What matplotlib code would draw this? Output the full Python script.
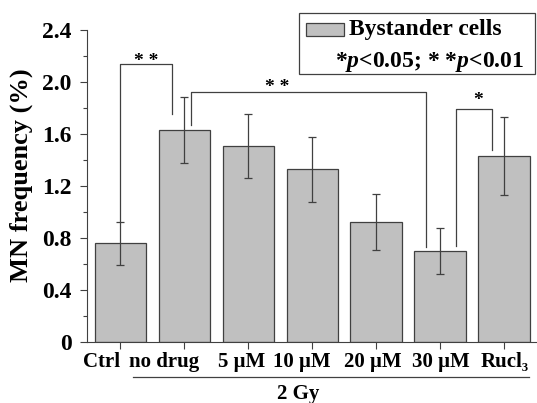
import matplotlib
matplotlib.use("Agg")
import matplotlib.pyplot as plt
import matplotlib.transforms as mtransforms
from matplotlib.patches import Rectangle
import numpy as np

plt.rcParams['font.family'] = ['Liberation Serif', 'DejaVu Serif']
plt.rcParams['font.weight'] = 'bold'
plt.rcParams['mathtext.fontset'] = 'custom'
plt.rcParams['mathtext.it'] = 'Liberation Serif:italic:bold'
plt.rcParams['mathtext.rm'] = 'Liberation Serif:bold'

groups = ["Ctrl", "no drug", "5 \u03bcM", "10 \u03bcM", "20 \u03bcM", "30 \u03bcM", "Rucl\u2083"]
mn_freq = [0.76, 1.63, 1.51, 1.33, 0.925, 0.70, 1.43]
mn_err = [0.165, 0.255, 0.245, 0.25, 0.215, 0.18, 0.30]

# significance brackets: (left x, right x, top y, left leg bottom, right leg bottom, label x, label)
brackets = [
    (0.0, 0.81, 2.14, 0.925, 1.75, 0.405, "* *"),
    (1.11, 4.78, 1.92, 1.67, 0.73, 2.46, "* *"),
    (5.245, 5.82, 1.79, 0.74, 1.48, 5.6, "*"),
]
label_lift = [-0.02, 0.005, 0.035]
# the labels under the bars are not quite centred in the original (pixels)
label_shift = [-19, -20, -7, -10, -3, 1, 1]

fig = plt.figure(figsize=(5.37, 4.03), dpi=100)
ax = fig.add_axes([0.162, 0.151, 0.836, 0.775])

x = np.arange(len(groups))
ax.bar(x, mn_freq, width=0.8, color="#c0c0c0", edgecolor="#404040", linewidth=0.9, zorder=2)
ax.errorbar(x, mn_freq, yerr=mn_err, fmt="none", ecolor="#404040", elinewidth=0.9,
            capsize=3, capthick=0.9, zorder=3)

for (x0, x1, top, b0, b1, lx, lab), lift in zip(brackets, label_lift):
    ax.plot([x0, x0, x1, x1], [b0, top, top, b1], color="#404040", lw=0.9, zorder=1)
    ax.text(lx, top + lift, lab, ha="center", va="baseline", fontsize=14)

ax.set_xlim(-0.52, 6.5)
ax.set_ylim(0, 2.4)
ax.set_yticks(np.arange(0, 2.41, 0.4))
ax.set_yticklabels(["0", "0.4", "0.8", "1.2", "1.6", "2.0", "2.4"], fontsize=17)
ax.set_yticks(np.arange(0.2, 2.4, 0.4), minor=True)
ax.set_xticks(x)
ax.set_xticklabels(groups, fontsize=15)
ax.tick_params(axis="both", which="major", direction="out", length=5, width=0.8, color="#404040")
ax.tick_params(axis="y", which="major", pad=6)
ax.tick_params(axis="x", which="major", pad=2)
ax.tick_params(axis="y", which="minor", direction="out", length=3, width=0.8, color="#404040")
for lbl, dx in zip(ax.get_xticklabels(), label_shift):
    lbl.set_transform(lbl.get_transform() +
                      mtransforms.ScaledTranslation(dx / 100, 0, fig.dpi_scale_trans))
ax.spines["top"].set_visible(False)
ax.spines["right"].set_visible(False)
for s in ("left", "bottom"):
    ax.spines[s].set_color("#404040")
    ax.spines[s].set_linewidth(0.8)
ax.set_ylabel("MN frequency (%)", fontsize=19, fontweight="bold")
ax.yaxis.set_label_coords(-0.120, 0.535)

trans = ax.get_xaxis_transform()
ax.plot([0.2, 6.39], [-0.111, -0.111], color="#404040", lw=0.9, transform=trans, clip_on=False)
ax.text(2.78, -0.165, "2 Gy", ha="center", va="center", fontsize=15, transform=trans)

# legend box
fig.patches.append(Rectangle((0.557, 0.816), 0.439, 0.152, transform=fig.transFigure,
                             facecolor="white", edgecolor="#404040", lw=0.9))
fig.patches.append(Rectangle((0.569, 0.911), 0.072, 0.033, transform=fig.transFigure,
                             facecolor="#c0c0c0", edgecolor="#404040", lw=0.9))
fig.text(0.650, 0.928, "Bystander cells", ha="left", va="center", fontsize=17)
fig.text(0.624, 0.847, r"*$p$<0.05; * *$p$<0.01", ha="left", va="center", fontsize=17)

fig.savefig("out.png", dpi=100)
